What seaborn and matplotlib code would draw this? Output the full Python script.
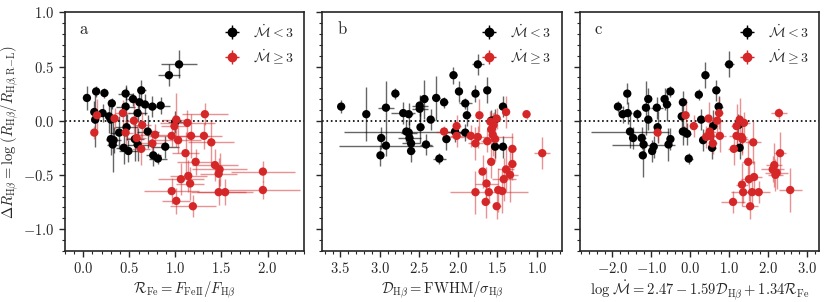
import numpy as np
import pandas as pd
import seaborn as sns
import matplotlib
matplotlib.use("Agg")
import matplotlib.pyplot as plt
from matplotlib.ticker import FuncFormatter, MultipleLocator, AutoMinorLocator

# panel a: R_Fe
a_black_x = [0.04, 0.14, 0.23, 0.12, 0.13, 0.21, 0.28, 0.31, 0.30, 0.46, 0.46, 0.54, 0.61, 0.63, 0.67, 0.59, 0.75,
             0.84, 0.93, 1.04, 0.39, 0.47, 0.30, 0.33, 0.32, 0.44, 0.49, 0.56, 0.59, 0.70, 0.76, 0.81, 0.89, 1.00]
a_black_y = [0.21, 0.27, 0.255, 0.08, 0.01, 0.07, 0.04, 0.16, 0.01, 0.25, 0.13, 0.20, 0.17, 0.28, 0.15, 0.07, 0.13,
             0.14, 0.42, 0.52, -0.11, -0.06, -0.17, -0.18, -0.22, -0.25, -0.28, -0.17, -0.22, -0.10, -0.32, -0.35, -0.24, -0.01]
a_black_xerr = [0.02, 0.02, 0.02, 0.03, 0.03, 0.05, 0.04, 0.04, 0.03, 0.08, 0.10, 0.06, 0.08, 0.05, 0.08, 0.10, 0.08,
                0.10, 0.12, 0.20, 0.10, 0.12, 0.05, 0.08, 0.06, 0.08, 0.10, 0.10, 0.12, 0.12, 0.08, 0.10, 0.15, 0.08]
a_black_yerr = [0.11, 0.05, 0.05, 0.10, 0.25, 0.08, 0.15, 0.05, 0.12, 0.06, 0.20, 0.06, 0.12, 0.10, 0.10, 0.08, 0.10,
                0.08, 0.10, 0.13, 0.15, 0.12, 0.15, 0.12, 0.25, 0.15, 0.10, 0.20, 0.15, 0.15, 0.10, 0.05, 0.10, 0.10]

a_red_x = [0.12, 0.15, 0.34, 0.43, 0.46, 0.55, 0.58, 0.63, 0.64, 0.75, 0.78, 0.96, 1.01, 0.99, 1.03, 1.13, 1.17, 1.32,
           1.31, 1.39, 1.11, 1.22, 1.43, 1.48, 1.47, 1.06, 1.14, 1.16, 0.96, 1.01, 1.19, 1.47, 1.54, 1.95, 1.95]
a_red_y = [-0.11, 0.05, 0.02, 0.07, -0.11, 0.00, -0.16, -0.26, -0.04, -0.21, -0.13, -0.14, 0.01, -0.05, -0.18, -0.02,
           -0.14, 0.06, -0.14, -0.20, -0.30, -0.38, -0.41, -0.45, -0.49, -0.54, -0.51, -0.58, -0.65, -0.74, -0.79,
           -0.66, -0.66, -0.47, -0.64]
a_red_xerr = [0.02, 0.03, 0.05, 0.08, 0.08, 0.10, 0.10, 0.10, 0.10, 0.15, 0.20, 0.25, 0.15, 0.15, 0.25, 0.30, 0.20,
              0.25, 0.20, 0.25, 0.15, 0.20, 0.25, 0.30, 0.20, 0.25, 0.20, 0.15, 0.30, 0.15, 0.25, 0.30, 0.30, 0.35, 0.40]
a_red_yerr = [0.06, 0.15, 0.10, 0.12, 0.12, 0.20, 0.12, 0.15, 0.12, 0.12, 0.10, 0.10, 0.25, 0.10, 0.12, 0.12, 0.20,
              0.10, 0.12, 0.20, 0.20, 0.12, 0.15, 0.15, 0.15, 0.15, 0.15, 0.15, 0.12, 0.12, 0.10, 0.12, 0.12, 0.10, 0.08]

# panel b: D_Hb
b_black_x = [3.49, 3.17, 2.92, 2.80, 2.98, 2.99, 2.92, 2.70, 2.63, 2.66, 2.63, 2.62, 2.60, 2.60, 2.49, 2.49, 2.43,
             2.48, 2.35, 2.41, 2.28, 2.18, 2.15, 2.24, 2.06, 1.99, 1.91, 1.89, 2.04, 1.91, 1.75, 1.78, 1.63, 1.43,
             1.58, 1.53, 1.53, 1.43]
b_black_y = [0.13, 0.06, 0.12, 0.25, -0.16, -0.32, -0.23, 0.07, 0.06, -0.10, -0.11, -0.16, -0.21, -0.28, 0.14, 0.11,
             0.20, -0.06, 0.01, -0.22, 0.21, 0.17, -0.17, -0.35, 0.42, 0.27, 0.16, 0.05, -0.10, -0.11, 0.52, 0.25,
             0.28, 0.13, 0.00, 0.01, -0.24, -0.24]
b_black_xerr = [0.04, 0.03, 0.10, 0.04, 0.03, 0.03, 0.60, 0.15, 0.05, 0.80, 0.10, 0.15, 0.12, 0.05, 0.10, 0.10, 0.05,
                0.05, 0.05, 0.08, 0.05, 0.05, 0.05, 0.08, 0.05, 0.04, 0.08, 0.05, 0.10, 0.10, 0.08, 0.05, 0.04, 0.05,
                0.05, 0.05, 0.05, 0.05]
b_black_yerr = [0.06, 0.25, 0.25, 0.05, 0.10, 0.10, 0.10, 0.10, 0.10, 0.10, 0.12, 0.10, 0.10, 0.10, 0.10, 0.12, 0.18,
                0.15, 0.10, 0.10, 0.20, 0.05, 0.10, 0.05, 0.08, 0.10, 0.05, 0.10, 0.10, 0.08, 0.10, 0.08, 0.12, 0.10,
                0.10, 0.10, 0.10, 0.10]

b_red_x = [2.18, 2.02, 2.02, 1.73, 1.84, 1.75, 1.78, 1.63, 1.59, 1.55, 1.51, 1.58, 1.56, 1.53, 1.39, 1.13, 0.93, 1.31,
           1.31, 1.39, 1.34, 1.42, 1.58, 1.69, 1.64, 1.78, 1.61, 1.49, 1.44, 1.65, 1.51]
b_red_y = [-0.10, -0.05, -0.14, 0.05, -0.14, -0.15, -0.21, -0.19, -0.01, -0.04, 0.02, -0.08, -0.13, -0.17, 0.08, 0.06,
           -0.30, -0.26, -0.40, -0.45, -0.50, -0.54, -0.38, -0.47, -0.58, -0.66, -0.66, -0.64, -0.65, -0.75, -0.79]
b_red_xerr = [0.10, 0.05, 0.08, 0.04, 0.05, 0.45, 0.10, 0.08, 0.05, 0.05, 0.05, 0.05, 0.05, 0.05, 0.04, 0.05, 0.10,
              0.04, 0.04, 0.10, 0.10, 0.15, 0.04, 0.05, 0.15, 0.05, 0.50, 0.05, 0.05, 0.05, 0.05]
b_red_yerr = [0.05, 0.10, 0.10, 0.15, 0.10, 0.10, 0.15, 0.10, 0.10, 0.12, 0.10, 0.15, 0.20, 0.20, 0.15, 0.04, 0.15,
              0.15, 0.15, 0.20, 0.25, 0.20, 0.15, 0.15, 0.15, 0.20, 0.10, 0.20, 0.20, 0.15, 0.12]

# panel c: log Mdot
c_black_x = [-1.86, -1.74, -1.62, -1.61, -1.36, -1.55, -1.47, -1.25, -1.20, -1.22, -1.14, -1.08, -1.08, -0.94, -0.98,
             -0.86, -0.84, -0.66, -0.60, -0.51, -0.56, -0.51, -0.19, -0.22, -0.19, -0.08, -0.04, 0.22, 0.28, 0.39,
             0.67, 0.73, 0.59, 0.33, 0.56, 1.00, 1.24, 1.27, -0.15]
c_black_y = [0.13, 0.06, 0.25, 0.07, 0.06, -0.10, -0.16, -0.16, -0.22, -0.32, 0.12, 0.20, 0.01, -0.24, -0.28, 0.12,
             -0.06, 0.20, 0.15, 0.27, -0.22, -0.17, 0.17, 0.04, -0.10, -0.12, -0.35, 0.24, 0.01, 0.42, 0.28, 0.13,
             -0.05, -0.18, -0.25, 0.52, -0.04, -0.25, -0.10]
c_black_xerr = [0.10, 0.10, 0.05, 0.10, 0.05, 1.00, 0.08, 0.10, 0.80, 0.05, 0.10, 0.05, 0.10, 0.05, 0.05, 0.15, 0.10,
                0.10, 0.10, 0.05, 0.10, 0.05, 0.10, 0.10, 0.10, 0.10, 0.10, 0.08, 0.08, 0.08, 0.10, 0.10, 0.10, 0.10,
                0.10, 0.12, 0.15, 0.05, 0.05]
c_black_yerr = [0.05, 0.08, 0.10, 0.10, 0.05, 0.15, 0.10, 0.10, 0.10, 0.20, 0.25, 0.10, 0.10, 0.10, 0.10, 0.10, 0.15,
                0.10, 0.15, 0.05, 0.15, 0.10, 0.10, 0.15, 0.12, 0.10, 0.05, 0.05, 0.10, 0.12, 0.10, 0.10, 0.15, 0.10,
                0.10, 0.12, 0.10, 0.10, 0.05]

c_red_x = [-0.84, -0.12, 0.09, 0.47, 0.69, 0.74, 0.41, 0.52, 0.50, 0.58, 0.76, 1.19, 1.27, 1.38, 1.19, 1.32, 1.34, 1.12,
           1.62, 1.49, 1.51, 1.64, 1.33, 1.36, 1.59, 1.76, 1.10, 1.54, 2.31, 2.16, 2.12, 2.22, 2.19, 2.57, 2.28]
c_red_y = [-0.11, 0.05, -0.05, 0.02, 0.00, 0.07, -0.15, -0.14, -0.10, -0.21, -0.14, -0.05, 0.01, -0.02, -0.14, -0.15,
           -0.17, -0.26, -0.20, -0.38, -0.54, -0.52, -0.59, -0.66, -0.66, -0.66, -0.75, -0.79, -0.30, -0.41, -0.45,
           -0.48, -0.50, -0.64, 0.07]
c_red_xerr = [0.05, 0.08, 0.10, 0.10, 0.15, 0.10, 0.15, 0.15, 0.15, 0.10, 0.15, 0.15, 0.15, 0.15, 0.20, 0.15, 0.15, 0.15,
              0.20, 0.15, 0.20, 0.20, 0.15, 0.30, 0.25, 0.30, 0.30, 0.20, 0.15, 0.20, 0.30, 0.30, 0.20, 0.30, 0.20]
c_red_yerr = [0.08, 0.15, 0.10, 0.15, 0.12, 0.15, 0.10, 0.12, 0.15, 0.10, 0.15, 0.20, 0.20, 0.10, 0.12, 0.15, 0.15, 0.15,
              0.20, 0.20, 0.20, 0.15, 0.20, 0.10, 0.15, 0.10, 0.10, 0.12, 0.20, 0.20, 0.12, 0.15, 0.15, 0.20, 0.05]

panels = [
    ("a", a_black_x, a_black_y, a_black_xerr, a_black_yerr, a_red_x, a_red_y, a_red_xerr, a_red_yerr,
     (-0.2, 2.4), [0.0, 0.5, 1.0, 1.5, 2.0],
     r"$\mathcal{R}_{\rm Fe}=F_{\rm FeII}/F_{\rm H\beta}$"),
    ("b", b_black_x, b_black_y, b_black_xerr, b_black_yerr, b_red_x, b_red_y, b_red_xerr, b_red_yerr,
     (3.73, 0.68), [3.5, 3.0, 2.5, 2.0, 1.5, 1.0],
     r"$\mathcal{D}_{\rm H\beta}={\rm FWHM}/\sigma_{\rm H\beta}$"),
    ("c", c_black_x, c_black_y, c_black_xerr, c_black_yerr, c_red_x, c_red_y, c_red_xerr, c_red_yerr,
     (-2.84, 3.32), [-2.0, -1.0, 0.0, 1.0, 2.0, 3.0],
     r"$\log\,\dot{\mathcal{M}}=2.47-1.59\mathcal{D}_{\rm H\beta}+1.34\mathcal{R}_{\rm Fe}$"),
]

black = "black"
red = "#d62728"

sns.set_style("ticks")
plt.rcParams["mathtext.fontset"] = "cm"
plt.rcParams["font.family"] = ["DejaVu Serif"]

fig, axes = plt.subplots(1, 3, figsize=(8.31, 3.02), dpi=100, sharey=True)
fig.subplots_adjust(left=0.078, right=0.986, bottom=0.17, top=0.959, wspace=0.075)

fmt = FuncFormatter(lambda v, p: "$%.1f$" % v)

for ax, (tag, bx, by, bxe, bye, rx, ry, rxe, rye, xlim, xt, xlabel) in zip(axes, panels):
    ax.errorbar(bx, by, xerr=bxe, yerr=bye, fmt="none", ecolor=black, elinewidth=1.0, alpha=0.6, zorder=2)
    ax.errorbar(rx, ry, xerr=rxe, yerr=rye, fmt="none", ecolor=red, elinewidth=1.0, alpha=0.5, zorder=2)
    df = pd.DataFrame({"x": bx + rx, "y": by + ry,
                       "grp": ["lo"] * len(bx) + ["hi"] * len(rx)})
    sns.scatterplot(data=df, x="x", y="y", hue="grp", palette={"lo": black, "hi": red},
                    s=36, edgecolor="none", linewidth=0, legend=False, zorder=3, ax=ax)
    ax.axhline(0, color="black", ls=":", lw=1.2, zorder=1)

    # legend proxies
    h1 = ax.errorbar([np.nan], [np.nan], xerr=[1], yerr=[1], fmt="o", color=black, ms=6, elinewidth=1.0)
    h2 = ax.errorbar([np.nan], [np.nan], xerr=[1], yerr=[1], fmt="o", color=red, ms=6, elinewidth=1.0)
    ax.legend([h1, h2], [r"$\dot{\mathcal{M}}<3$", r"$\dot{\mathcal{M}}\geq3$"], loc="upper right",
              frameon=False, fontsize=10, handlelength=1.4, borderaxespad=0.4, labelspacing=0.5)

    ax.text(0.06, 0.93, r"$\mathrm{%s}$" % tag, transform=ax.transAxes, fontsize=12, va="center")

    ax.set_xlim(*xlim)
    ax.set_xticks(xt)
    ax.xaxis.set_minor_locator(AutoMinorLocator(5))
    ax.xaxis.set_major_formatter(fmt)
    ax.set_xlabel(xlabel, fontsize=10.5, labelpad=2)
    ax.set_ylabel("")
    ax.tick_params(which="major", direction="out", length=4, width=1, labelsize=10.5)
    ax.tick_params(which="minor", direction="out", length=2, width=0.8)
    for s in ax.spines.values():
        s.set_linewidth(1.2)

ax0 = axes[0]
ax0.set_ylim(-1.2, 1.0)
ax0.yaxis.set_major_locator(MultipleLocator(0.5))
ax0.yaxis.set_minor_locator(MultipleLocator(0.1))
ax0.yaxis.set_major_formatter(fmt)
ax0.set_ylabel(r"$\Delta R_{\rm H\beta}=\log\,(R_{\rm H\beta}/R_{\rm H\beta,R\!-\!L})$", fontsize=10.5, labelpad=2)
for ax in axes[1:]:
    ax.tick_params(labelleft=False)

plt.savefig("out.png", dpi=100)
